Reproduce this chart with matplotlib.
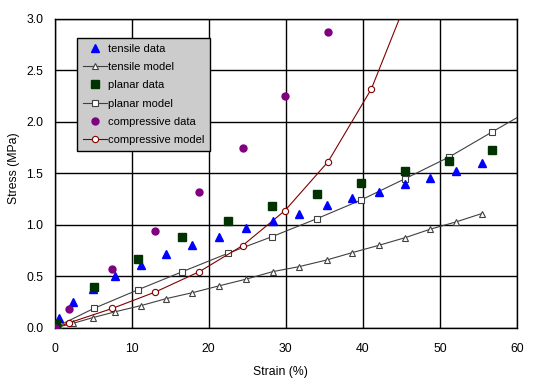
import numpy as np
import matplotlib
matplotlib.use("Agg")
import matplotlib.pyplot as plt

plt.rcParams['font.family'] = ['Liberation Sans', 'DejaVu Sans']

# tensile
tens_x = [0.55, 2.4, 4.95, 7.9, 11.2, 14.5, 17.9, 21.4, 24.8, 28.3, 31.7, 35.3, 38.6, 42.1, 45.5, 48.7, 52.1, 55.4]
tens_data = [0.094, 0.255, 0.376, 0.50, 0.61, 0.715, 0.805, 0.886, 0.974, 1.04, 1.11, 1.19, 1.26, 1.32, 1.395, 1.46, 1.527, 1.605]
tens_mx = [0.0, 0.55, 2.4, 4.95, 7.9, 11.2, 14.5, 17.9, 21.4, 24.8, 28.3, 31.7, 35.3, 38.6, 42.1, 45.5, 48.7, 52.1, 55.4]
tens_model = [0.0, 0.01, 0.045, 0.10, 0.158, 0.217, 0.285, 0.343, 0.41, 0.473, 0.547, 0.595, 0.66, 0.731, 0.803, 0.877, 0.958, 1.03, 1.11]

# planar
plan_x = [0.2, 5.1, 10.8, 16.6, 22.5, 28.2, 34.0, 39.7, 45.5, 51.2, 56.7]
plan_data = [0.036, 0.40, 0.67, 0.886, 1.04, 1.18, 1.30, 1.41, 1.52, 1.62, 1.73]
plan_mx = [0.0, 0.2, 5.1, 10.8, 16.6, 22.5, 28.2, 34.0, 39.7, 45.5, 51.2, 56.7, 62.5]
plan_model = [0.0, 0.01, 0.19, 0.37, 0.547, 0.725, 0.886, 1.06, 1.24, 1.45, 1.66, 1.90, 2.15]

# compressive
comp_x = [0.0, 1.9, 7.5, 13.1, 18.8, 24.4, 29.9, 35.5]
comp_data = [0.0, 0.18, 0.576, 0.94, 1.32, 1.75, 2.25, 2.87]
comp_mx = [0.0, 1.9, 7.5, 13.1, 18.8, 24.4, 29.9, 35.5, 41.1, 46.7]
comp_model = [0.0, 0.05, 0.19, 0.35, 0.547, 0.80, 1.14, 1.615, 2.32, 3.37]

fig = plt.figure(figsize=(5.36, 3.79), dpi=100)
ax = fig.add_axes([0.1017, 0.1346, 0.8629, 0.8154])

gray = '#404040'
ax.plot(tens_x, tens_data, '^', color='#0000ff', ms=6, mec='#0000ff', ls='none', label='tensile data', zorder=4)
ax.plot(tens_mx, tens_model, '-^', color=gray, lw=0.8, ms=5, mfc='white', mec=gray, mew=0.8, label='tensile model', zorder=3)
ax.plot(plan_x, plan_data, 's', color='#003300', ms=5.5, ls='none', label='planar data', zorder=4)
ax.plot(plan_mx, plan_model, '-s', color=gray, lw=0.8, ms=5, mfc='white', mec=gray, mew=0.8, label='planar model', zorder=3)
ax.plot(comp_x, comp_data, 'o', color='#800080', ms=5, ls='none', label='compressive data', zorder=4)
ax.plot(comp_mx, comp_model, '-o', color='#800000', lw=0.8, ms=4.5, mfc='white', mec='#800000', mew=0.8, label='compressive model', zorder=3)

ax.set_xlim(0, 60)
ax.set_ylim(0, 3.0)
ax.set_xticks(np.arange(0, 61, 10))
ax.set_yticks(np.arange(0, 3.01, 0.5))
ax.set_yticklabels([f'{v:.1f}' for v in np.arange(0, 3.01, 0.5)])
ax.grid(True, color='black', lw=1)
ax.set_axisbelow(True)
ax.tick_params(length=0, labelsize=8.8)
ax.tick_params(axis='x', pad=11)
ax.tick_params(axis='y', pad=8)
for s in ax.spines.values():
    s.set_linewidth(1)
ax.set_xlabel('Strain (%)', fontsize=8.8)
ax.set_ylabel('Stress (MPa)', fontsize=8.8)
ax.xaxis.set_label_coords(0.4876, -0.122)
ax.yaxis.set_label_coords(-0.075, 0.518)

leg = ax.legend(loc='upper left', bbox_to_anchor=(0.0486, 0.9385), borderaxespad=0,
                fontsize=8, fancybox=False, framealpha=1, facecolor='#cccccc',
                edgecolor='black', handlelength=2.2, labelspacing=0.75, handletextpad=0.1,
                borderpad=0.5)
leg.get_frame().set_linewidth(1)

fig.savefig('out.png', dpi=100)
